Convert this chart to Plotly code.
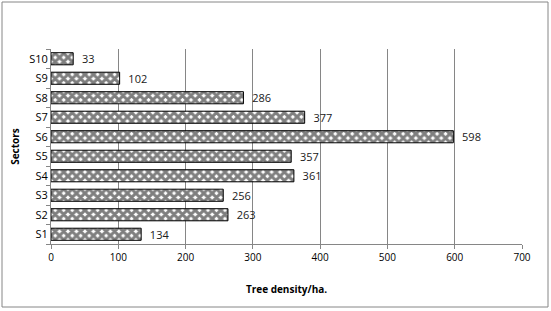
import plotly.graph_objects as go

sectors = ["S1", "S2", "S3", "S4", "S5", "S6", "S7", "S8", "S9", "S10"]
density = [134, 263, 256, 361, 357, 598, 377, 286, 102, 33]
x_ticks = [0, 100, 200, 300, 400, 500, 600, 700]

W, H = 551, 311
L, R, T, B = 51, 29, 49, 67
pw, ph = W - L - R, H - T - B

fig = go.Figure(go.Bar(
    y=sectors, x=density, orientation="h",
    marker=dict(color="white", line=dict(color="black", width=1),
                pattern=dict(shape="x", fgcolor="black", bgcolor="white", size=6, solidity=0.75)),
    text=["  " + str(v) for v in density], textposition="outside", constraintext="none",
    textfont=dict(family="Open Sans", size=11, color="#202020"),
    cliponaxis=False,
))

fig.update_layout(
    width=W, height=H, margin=dict(l=L, r=R, t=T, b=B),
    paper_bgcolor="white", plot_bgcolor="white", showlegend=False,
    bargap=0.38,
    font=dict(family="Open Sans", size=10, color="black"),
    xaxis=dict(range=[0, 700], tickvals=x_ticks, showgrid=True, gridcolor="#868686", gridwidth=1,
               showline=True, linecolor="#868686", ticks="outside", ticklen=4, tickcolor="#868686",
               zeroline=False, tickfont=dict(size=10),
               title=dict(text="<b>Tree density/ha.</b>", font=dict(size=10), standoff=22)),
    yaxis=dict(categoryorder="array", categoryarray=sectors, showline=True, linecolor="#868686",
               ticks="outside", ticklen=4, tickcolor="#868686", tickson="boundaries", showgrid=False,
               tickfont=dict(size=11),
               title=dict(text="<b>Sectors</b>", font=dict(size=10), standoff=7)),
    shapes=[dict(type="rect", xref="paper", yref="paper",
                 x0=(2 - L) / pw, x1=(548 - L) / pw,
                 y0=(T + ph - 307) / ph, y1=(T + ph - 2) / ph,
                 line=dict(color="#868686", width=1), fillcolor="rgba(0,0,0,0)", layer="below")],
)

fig.write_html("out.html")
